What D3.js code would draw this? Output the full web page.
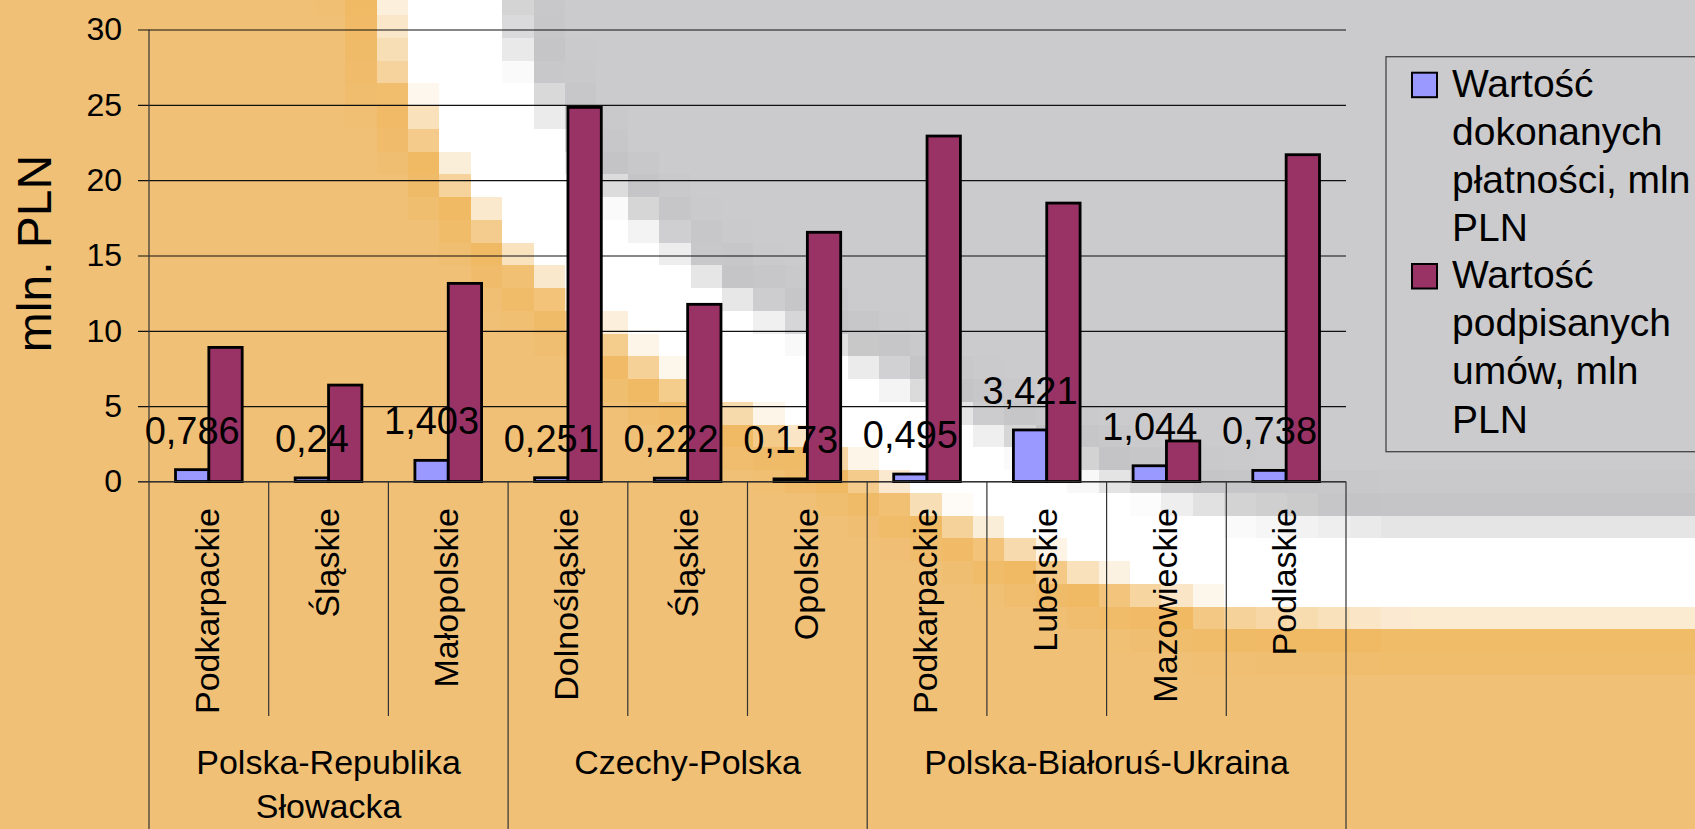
<!DOCTYPE html>
<html>
<head>
<meta charset="utf-8">
<script src="https://cdn.jsdelivr.net/npm/d3@7"></script>
<style>
  html, body { margin: 0; padding: 0; background: #F0C076; }
  svg { display: block; }
  text { font-family: "Liberation Sans", Arial, sans-serif; fill: #000; }
</style>
</head>
<body>
<svg id="chart" width="1695" height="829"></svg>
<script>
// ---------- data ----------
const categories = ["Podkarpackie", "Śląskie", "Małopolskie", "Dolnośląskie", "Śląskie", "Opolskie",
                    "Podkarpackie", "Lubelskie", "Mazowieckie", "Podlaskie"];
const groupLabels = [["Polska-Republika", "Słowacka"], ["Czechy-Polska"], ["Polska-Białoruś-Ukraina"]];
const groupSizes = [3, 3, 4];
const payments = [0.786, 0.24, 1.403, 0.251, 0.222, 0.173, 0.495, 3.421, 1.044, 0.738];
const contracts = [8.9, 6.4, 13.15, 24.83, 11.76, 16.54, 22.93, 18.48, 2.69, 21.69];
const seriesNames = [["Wartość", "dokonanych", "płatności, mln", "PLN"],
                     ["Wartość", "podpisanych", "umów, mln", "PLN"]];
const yTicks = [0, 5, 10, 15, 20, 25, 30];
const yTitle = "mln. PLN";

// ---------- styling ----------
const colors = ["#9999FF", "#993366"];
const W = 1695, H = 829;
const svg = d3.select("#chart");

// ---------- background (pixelated diagonal band) ----------
const bandLine = [[440,-30,46],[455,50,45],[500,140,42],[560,220,40],[620,270,38],[690,330,36],
                  [762,367,34],[850,410,32],[930,452,32],[1000,488,32],[1100,528,33],[1230,562,33],
                  [1400,575,33],[1760,575,33]];
const white = [255,255,255], orange = [240,192,118], deepOrange = [240,185,98],
      gray = [203,203,205], deepGray = [196,196,198];
function mix(a, b, t) { t = Math.max(0, Math.min(1, t)); return a.map((v, i) => v + (b[i] - v) * t); }
function bg(px, py) {
  let best = {d: 1e9, s: 1, w: 33};
  for (let i = 0; i < bandLine.length - 1; i++) {
    const [x1, y1, w1] = bandLine[i], [x2, y2, w2] = bandLine[i + 1];
    const dx = x2 - x1, dy = y2 - y1, L2 = dx * dx + dy * dy;
    let t = ((px - x1) * dx + (py - y1) * dy) / L2; t = Math.max(0, Math.min(1, t));
    const qx = x1 + t * dx, qy = y1 + t * dy;
    const d = Math.hypot(px - qx, py - qy);
    if (d < best.d) {
      const cr = dx * (py - y1) - dy * (px - x1);
      best = {d, s: cr < 0 ? -1 : 1, w: w1 + (w2 - w1) * t};
    }
  }
  const base = best.s < 0 ? gray : orange, deep = best.s < 0 ? deepGray : deepOrange;
  const e = best.d - best.w;
  let c;
  if (e <= 0) c = white;
  else if (e < 34) c = mix(white, deep, e / 34);
  else c = mix(deep, base, (e - 34) / 40);
  return d3.rgb(c[0], c[1], c[2]).formatHex();
}
const cellW = W / 54, cellH = 22.75, offY = -7.75;
const bgG = svg.append("g").attr("shape-rendering", "crispEdges");
for (let r = 0; offY + r * cellH < H; r++) {
  for (let c = 0; c * cellW < W; c++) {
    const x0 = c * cellW, y0 = offY + r * cellH;
    bgG.append("rect").attr("x", x0).attr("y", y0).attr("width", cellW + 0.6).attr("height", cellH + 0.6)
      .attr("fill", bg(x0 + cellW / 2, y0 + cellH / 2));
  }
}

// ---------- scales ----------
const x0L = 149, x0R = 1346, yTop = 29.5, yBot = 481.5;
const x = d3.scaleBand().domain(d3.range(categories.length)).range([x0L, x0R]).padding(0);
const x1 = d3.scaleBand().domain([0, 1]).range([0, x.bandwidth()]).paddingInner(0).paddingOuter(0.795);
const y = d3.scaleLinear().domain([0, 30]).range([yBot, yTop]);

// ---------- gridlines + y axis ----------
const yAxis = svg.append("g").attr("transform", "translate(138,0)")
  .call(d3.axisLeft(y).tickValues(yTicks).tickSize(-(x0R - 138)).tickPadding(16).tickFormat(d3.format("d")));
yAxis.select(".domain").remove();
yAxis.selectAll(".tick line").attr("stroke", "#111").attr("stroke-width", 1.2);
yAxis.selectAll(".tick text").attr("font-size", 32).attr("font-family", "Liberation Sans, Arial, sans-serif")
  .attr("fill", "#000");

svg.append("line").attr("x1", x0L).attr("x2", x0L).attr("y1", yTop).attr("y2", H)
  .attr("stroke", "#333").attr("stroke-width", 1.2);

// y title
svg.append("text").attr("transform", `translate(34,${(yTop + yBot) / 2 - 2}) rotate(-90)`)
  .attr("text-anchor", "middle").attr("dy", "0.36em").attr("font-size", 48).text(yTitle);

// ---------- category / group separators ----------
const sep = svg.append("g").attr("stroke", "#333").attr("stroke-width", 1.2);
let boundaries = [0];
groupSizes.forEach(s => boundaries.push(boundaries[boundaries.length - 1] + s));
d3.range(1, categories.length).forEach(i => {
  if (!boundaries.includes(i)) {
    sep.append("line").attr("x1", x(i)).attr("x2", x(i)).attr("y1", yBot).attr("y2", 716);
  }
});
boundaries.slice(1).forEach(i => {
  const xx = i < categories.length ? x(i) : x0R;
  sep.append("line").attr("x1", xx).attr("x2", xx).attr("y1", yBot).attr("y2", H);
});

// ---------- bars ----------
const series = [payments, contracts];
series.forEach((vals, si) => {
  svg.append("g").selectAll("rect").data(vals).join("rect")
    .attr("x", (d, i) => x(i) + x1(si))
    .attr("y", d => y(d))
    .attr("width", x1.bandwidth())
    .attr("height", d => y(0) - y(d))
    .attr("fill", colors[si]).attr("stroke", "#000").attr("stroke-width", 2.8);
});

// data labels for payments
svg.append("g").selectAll("text").data(payments).join("text")
  .attr("x", (d, i) => x(i) + x1(0) + x1.bandwidth() / 2)
  .attr("y", d => y(d) - 26)
  .attr("text-anchor", "middle").attr("font-size", 38)
  .text(d => String(d).replace(".", ","));

// x axis line
svg.append("line").attr("x1", 138).attr("x2", x0R).attr("y1", yBot).attr("y2", yBot)
  .attr("stroke", "#333").attr("stroke-width", 1.2);

// category labels
svg.append("g").selectAll("text").data(categories).join("text")
  .attr("transform", (d, i) => `translate(${x(i) + x.bandwidth() / 2},508) rotate(-90)`)
  .attr("text-anchor", "end").attr("dy", "0.3em").attr("font-size", 34)
  .text(d => d);

// group labels
groupLabels.forEach((lines, gi) => {
  const a = boundaries[gi], b = boundaries[gi + 1];
  const cx = (x(a) + (b < categories.length ? x(b) : x0R)) / 2;
  lines.forEach((ln, li) => {
    svg.append("text").attr("x", cx).attr("y", 774 + li * 44)
      .attr("text-anchor", "middle").attr("font-size", 34).text(ln);
  });
});

// ---------- legend ----------
const lg = svg.append("g");
lg.append("rect").attr("x", 1386).attr("y", 56.7).attr("width", 330).attr("height", 395)
  .attr("fill", "none").attr("stroke", "#444").attr("stroke-width", 1.3);
const legendTop = [72.7, 264];
seriesNames.forEach((lines, si) => {
  lg.append("rect").attr("x", 1412).attr("y", legendTop[si]).attr("width", 25).attr("height", 24.5)
    .attr("fill", colors[si]).attr("stroke", "#000").attr("stroke-width", 2);
  lines.forEach((ln, li) => {
    lg.append("text").attr("x", 1452).attr("y", legendTop[si] + 24 + li * 48.2)
      .attr("font-size", 39).text(ln);
  });
});
</script>
</body>
</html>
